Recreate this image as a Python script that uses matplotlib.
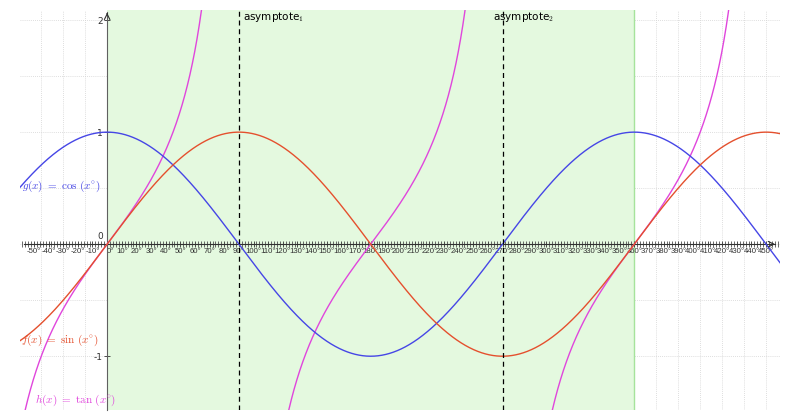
import numpy as np
import matplotlib.pyplot as plt
from matplotlib.ticker import MultipleLocator, FixedLocator

# function curves (degrees)
x_min, x_max = -59.5, 459.5
y_min, y_max = -1.48, 2.09
x = np.linspace(x_min, x_max, 4000)
sin_y = np.sin(np.radians(x))
cos_y = np.cos(np.radians(x))
tan_y = np.tan(np.radians(x))
tan_y[np.abs(tan_y) > 20] = np.nan

shade = (0, 360)          # shaded interval
asymptotes = [90, 270]
asym_labels = [r'asymptote$_1$', r'asymptote$_2$']
xtick_vals = list(range(-50, 451, 10))
ytick_vals = [-1, 1, 2]

plt.rcParams['mathtext.fontset'] = 'cm'

fig = plt.figure(figsize=(8, 4.2), dpi=100)
ax = fig.add_axes([20 / 800, 10 / 420, 760 / 800, 400 / 420])
ax.set_xlim(x_min, x_max)
ax.set_ylim(y_min, y_max)

# grid
for gx in np.arange(-45, 460, 15):
    ax.axvline(gx, color='#d4d4d4', lw=0.6, ls=(0, (1, 1.5)), zorder=0)
for gy in np.arange(-1.5, 2.1, 0.5):
    ax.axhline(gy, color='#d4d4d4', lw=0.6, ls=(0, (1, 1.5)), zorder=0)

# shaded region
ax.axvspan(shade[0], shade[1], color='#e4f9df', zorder=0.5, lw=0)
ax.axvline(shade[1], color='#a6e39c', lw=1, zorder=0.6)

# curves
ax.plot(x, tan_y, color='#e046dc', lw=1, zorder=3)
ax.plot(x, cos_y, color='#4646e6', lw=1, zorder=3)
ax.plot(x, sin_y, color='#e4502e', lw=1, zorder=3)

# asymptotes
for a in asymptotes:
    ax.axvline(a, color='black', lw=0.9, ls=(0, (4, 3)), zorder=4)
ax.text(asymptotes[0] + 2.5, 2.03, asym_labels[0], fontsize=7.5, va='center', ha='left')
ax.text(asymptotes[1] - 6.5, 2.03, asym_labels[1], fontsize=7.5, va='center', ha='left')

# spines through origin
for s in ['top', 'right']:
    ax.spines[s].set_visible(False)
ax.spines['left'].set_position(('data', 0))
ax.spines['bottom'].set_position(('data', 0))
ax.spines['left'].set_color('#606060')
ax.spines['bottom'].set_color('#303030')
ax.spines['left'].set_bounds(y_min, 2.07)
ax.spines['bottom'].set_bounds(x_min + 3, 456)
ax.spines['bottom'].set_zorder(2)
ax.spines['left'].set_zorder(2)

ax.annotate('', xy=(458, 0), xytext=(452, 0),
            arrowprops=dict(arrowstyle='->', color='#303030', lw=0.8))
ax.annotate('', xy=(0, 2.09), xytext=(0, 2.03),
            arrowprops=dict(arrowstyle='->', color='#303030', lw=0.8))

ax.xaxis.set_major_locator(FixedLocator(xtick_vals))
ax.set_xticklabels([f'{v}°' for v in xtick_vals])
ax.xaxis.set_minor_locator(MultipleLocator(2))
ax.tick_params(axis='x', which='major', direction='inout', length=5, width=0.6,
               labelsize=5.6, pad=0.5, colors='#303030')
ax.tick_params(axis='x', which='minor', direction='inout', length=4, width=0.6,
               colors='#505050')
for lbl in ax.get_xticklabels():
    lbl.set_fontfamily('Liberation Sans')
    if lbl.get_text() == '0°':
        lbl.set_horizontalalignment('left')

ax.yaxis.set_major_locator(FixedLocator(ytick_vals))
ax.set_yticklabels([str(v) for v in ytick_vals])
ax.tick_params(axis='y', which='major', direction='inout', length=4, width=0.6,
               labelsize=6.5, pad=1, colors='#303030')
ax.text(-3, 0.025, '0', fontsize=6.5, ha='right', va='bottom', color='#303030')

# function labels
ax.text(-58, 0.52, r'$g(x)\ =\ \cos\,(x^{\circ})$', color='#4646e6', fontsize=8, va='center')
ax.text(-59, -0.86, r'$f(x)\ =\ \sin\,(x^{\circ})$', color='#e4502e', fontsize=8, va='center')
ax.text(-49, -1.39, r'$h(x)\ =\ \tan\,(x^{\circ})$', color='#e046dc', fontsize=8, va='center')

fig.savefig('out.png', dpi=100)
